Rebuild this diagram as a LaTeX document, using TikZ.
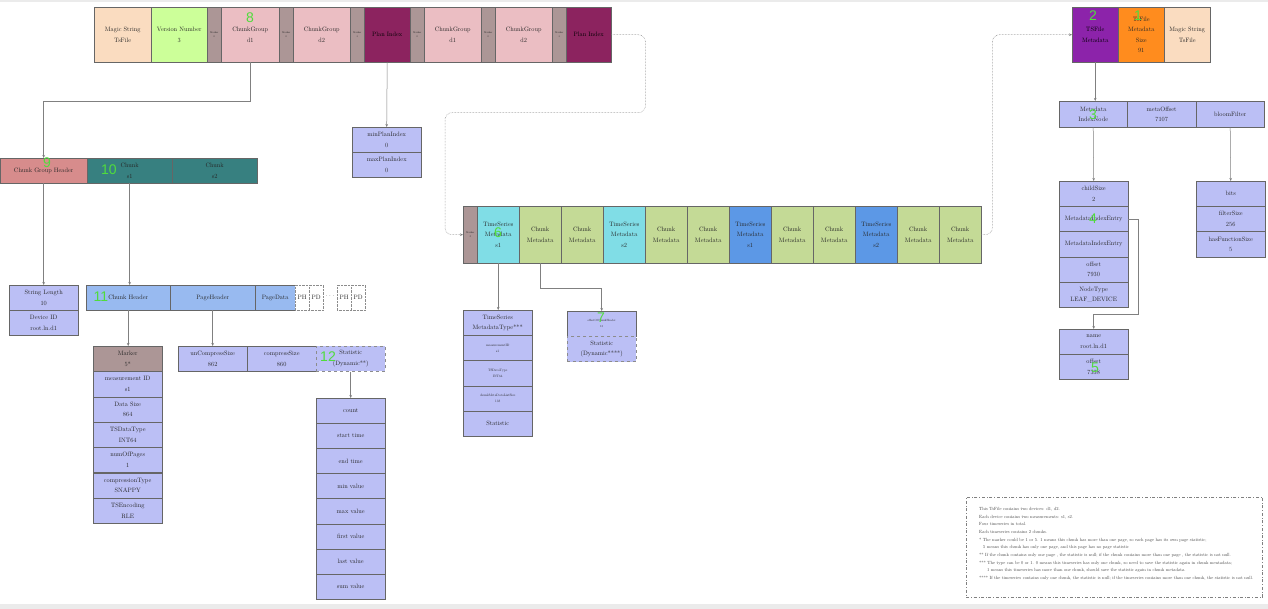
\documentclass[tikz,border=0pt]{standalone}
\usepackage{fontspec}
\setmainfont{lmroman10-regular.otf}
\newfontfamily\tagfont{Liberation Sans}
\usetikzlibrary{arrows.meta}
\definecolor{magiccol}{RGB}{250,220,192}
\definecolor{versioncol}{RGB}{204,255,153}
\definecolor{markcol}{RGB}{172,150,150}
\definecolor{groupcol}{RGB}{235,190,195}
\definecolor{plancol}{RGB}{140,35,95}
\definecolor{metacol}{RGB}{140,35,170}
\definecolor{sizecol}{RGB}{255,140,30}
\definecolor{cghcol}{RGB}{215,140,140}
\definecolor{chunkcol}{RGB}{55,128,128}
\definecolor{lavcol}{RGB}{187,191,245}
\definecolor{hdrcol}{RGB}{152,186,240}
\definecolor{cyancol}{RGB}{128,221,230}
\definecolor{cmcol}{RGB}{196,218,150}
\definecolor{bluecol}{RGB}{92,152,230}
\definecolor{tagcol}{RGB}{80,220,60}

\tikzset{
  cell/.style={draw=black!60, anchor=north west, align=center, inner sep=0pt, text=black!85, font=\fontsize{6.3}{10.5}\selectfont},
  toprow/.style={cell, minimum height=55pt},
  midrow/.style={cell, minimum width=42pt, minimum height=57pt},
  markerbox/.style={cell, fill=markcol, minimum width=14pt, minimum height=55pt, font=\fontsize{2.6}{3.4}\selectfont},
  stackcell/.style={cell, fill=lavcol, minimum width=69pt, minimum height=25.2pt},
  tinycell/.style={stackcell, font=\fontsize{3.4}{6}\selectfont},
  dynbox/.style={stackcell, dashed, draw=black!45},
  pagebox/.style={cell, fill=white, densely dotted, draw=black!45, minimum width=14pt, minimum height=25pt},
  link/.style={draw=black!50, line width=0.5pt, -{Stealth[length=3pt,width=2.6pt]}},
  dlink/.style={link, densely dotted, rounded corners=7pt},
  tag/.style={text=tagcol, inner sep=0pt, font=\tagfont\fontsize{14}{14}\selectfont},
}

\begin{document}
\begin{tikzpicture}[x=1pt,y=-1pt]
    \useasboundingbox (0,0) rectangle (1268,609);
    \fill[white] (0,0) rectangle (1268,609);
    \fill[black!8] (0,0) rectangle (1268,2.5);
    \fill[black!8] (0,604) rectangle (1268,609);

    \node[toprow, fill=magiccol, minimum width=57pt] (magicA) at (94,7) {Magic String\\TsFile};
    \node[toprow, fill=versioncol, minimum width=56pt] (version) at (151,7) {Version Number\\3};
    \node[markerbox] (mkA) at (207,7) {Marker\\0};
    \node[toprow, fill=groupcol, minimum width=58pt] (cgA) at (221,7) {ChunkGroup\\d1};
    \node[markerbox] (mkB) at (279,7) {Marker\\0};
    \node[toprow, fill=groupcol, minimum width=57pt] (cgB) at (293,7) {ChunkGroup\\d2};
    \node[markerbox] (mkC) at (350,7) {Marker\\3};
    \node[toprow, fill=plancol, minimum width=46pt, text=black] (planA) at (364,7) {Plan Index};
    \node[markerbox] (mkD) at (410,7) {Marker\\0};
    \node[toprow, fill=groupcol, minimum width=57pt] (cgC) at (424,7) {ChunkGroup\\d1};
    \node[markerbox] (mkE) at (481,7) {Marker\\0};
    \node[toprow, fill=groupcol, minimum width=57pt] (cgD) at (495,7) {ChunkGroup\\d2};
    \node[markerbox] (mkF) at (552,7) {Marker\\3};
    \node[toprow, fill=plancol, minimum width=45pt, text=black] (planB) at (566,7) {Plan Index};

    \node[toprow, fill=metacol, minimum width=46pt, text=black] (tsfmeta) at (1072,7) {TSFile\\Metadata};
    \node[toprow, fill=sizecol, minimum width=46pt] (tsfsize) at (1118,7) {TsFile\\Metadata\\Size\\91};
    \node[toprow, fill=magiccol, minimum width=46pt] (magicB) at (1164,7) {Magic String\\TsFile};

    \node[stackcell] (minplan) at (352,127) {minPlanIndex\\0};
    \node[stackcell] (maxplan) at (352,152.2) {maxPlanIndex\\0};

    \node[cell, fill=cghcol, minimum width=87pt, minimum height=25pt] (cgh) at (0,158) {Chunk Group Header};
    \node[cell, fill=chunkcol, minimum width=85pt, minimum height=25pt] (chunkA) at (87,158) {Chunk\\s1};
    \node[cell, fill=chunkcol, minimum width=85pt, minimum height=25pt] (chunkB) at (172,158) {Chunk\\s2};

    \node[stackcell] (strlen) at (9,285) {String Length\\10};
    \node[stackcell] (devid) at (9,310.2) {Device ID\\root.ln.d1};

    \node[cell, fill=hdrcol, minimum width=84pt, minimum height=25pt] (chdr) at (86,285) {Chunk Header};
    \node[cell, fill=hdrcol, minimum width=85pt, minimum height=25pt] (phdr) at (170,285) {PageHeader};
    \node[cell, fill=hdrcol, minimum width=40pt, minimum height=25pt] (pdata) at (255,285) {PageData};
    \node[pagebox] (phA) at (295,285) {PH};
    \node[pagebox] (pdA) at (309,285) {PD};
    \node[font=\fontsize{6.3}{8}\selectfont, text=black!70] (dots) at (330,296) {$\cdots$};
    \node[pagebox] (phB) at (337,285) {PH};
    \node[pagebox] (pdB) at (351,285) {PD};

    \node[stackcell, fill=markcol] (mkr) at (93,346) {Marker\\5*};
    \node[stackcell] (mid) at (93,371.3) {measurement ID\\s1};
    \node[stackcell] (dsize) at (93,396.6) {Data Size\\864};
    \node[stackcell] (dtype) at (93,421.9) {TSDataType\\INT64};
    \node[stackcell] (npages) at (93,447.2) {numOfPages\\1};
    \node[stackcell] (ctype) at (93,472.5) {compressionType\\SNAPPY};
    \node[stackcell] (enc) at (93,497.8) {TSEncoding\\RLE};

    \node[stackcell] (ucs) at (178,346) {unCompressSize\\862};
    \node[stackcell] (cs) at (247,346) {compressSize\\860};
    \node[dynbox] (pstat) at (316,346) {Statistic\\(Dynamic**)};

    \foreach \i/\t in {0/count,1/start time,2/end time,3/min value,4/max value,5/first value,6/last value,7/sum value}
        \node[stackcell] (st\i) at (316,{398+25.1*\i}) {\t};

    \node[markerbox, minimum height=57pt] (mkM) at (463,206) {Marker\\2};
    \node[midrow, fill=cyancol] (tsA) at (477,206) {TimeSeries\\Metadata\\s1};
    \node[midrow, fill=cmcol] (cmA1) at (519,206) {Chunk\\Metadata};
    \node[midrow, fill=cmcol] (cmA2) at (561,206) {Chunk\\Metadata};
    \node[midrow, fill=cyancol] (tsB) at (603,206) {TimeSeries\\Metadata\\s2};
    \node[midrow, fill=cmcol] (cmB1) at (645,206) {Chunk\\Metadata};
    \node[midrow, fill=cmcol] (cmB2) at (687,206) {Chunk\\Metadata};
    \node[midrow, fill=bluecol] (tsC) at (729,206) {TimeSeries\\Metadata\\s1};
    \node[midrow, fill=cmcol] (cmC1) at (771,206) {Chunk\\Metadata};
    \node[midrow, fill=cmcol] (cmC2) at (813,206) {Chunk\\Metadata};
    \node[midrow, fill=bluecol] (tsD) at (855,206) {TimeSeries\\Metadata\\s2};
    \node[midrow, fill=cmcol] (cmD1) at (897,206) {Chunk\\Metadata};
    \node[midrow, fill=cmcol] (cmD2) at (939,206) {Chunk\\Metadata};

    \node[stackcell] (tsmtype) at (463,310) {TimeSeries\\MetadataType***};
    \node[tinycell] (msid) at (463,335.2) {measurementID\\s1};
    \node[tinycell] (tdt) at (463,360.4) {TSDataType\\INT64};
    \node[tinycell] (cmls) at (463,385.6) {chunkMetaDataListSize\\138};
    \node[stackcell] (tstat) at (463,410.8) {Statistic};

    \node[tinycell, font=\fontsize{3}{6}\selectfont] (offh) at (567,311) {offsetOfChunkHeader\\13};
    \node[dynbox] (dstat) at (567,336.2) {Statistic\\(Dynamic****)};

    \node[stackcell, minimum width=68pt, minimum height=26pt] (idxnode) at (1059,101) {Metadata\\IndexNode};
    \node[stackcell, minimum height=26pt] (metaoff) at (1127,101) {metaOffset\\7107};
    \node[stackcell, minimum width=68pt, minimum height=26pt] (bloom) at (1196,101) {bloomFilter};

    \node[stackcell] (childsize) at (1059,181) {childSize\\2};
    \node[stackcell] (entryA) at (1059,206.2) {MetadataIndexEntry};
    \node[stackcell] (entryB) at (1059,231.4) {MetadataIndexEntry};
    \node[stackcell] (offA) at (1059,256.6) {offset\\7930};
    \node[stackcell] (ntype) at (1059,281.8) {NodeType\\LEAF\_DEVICE};

    \node[stackcell] (nameA) at (1059,329) {name\\root.ln.d1};
    \node[stackcell] (offB) at (1059,354.2) {offset\\7338};

    \node[stackcell] (bits) at (1196,181) {bits};
    \node[stackcell] (fsize) at (1196,206.2) {filterSize\\256};
    \node[stackcell] (hfsize) at (1196,231.4) {hasFunctionSize\\5};

    \node[draw=black!50, dash dot, anchor=north west, minimum width=296pt, minimum height=100pt] (notebox) at (966,497) {};
    \node[anchor=north west, align=left, inner sep=0pt, text=black!75, font=\fontsize{4.5}{7.7}\selectfont] (notetext) at (979,507) {%
        This TsFile contains two devices: d1, d2.\\
        Each device contains two measurements: s1, s2.\\
        Four timeseries in total.\\
        Each timeseries contains 2 chunks.\\
        * The marker could be 1 or 5. 1 means this chunk has more than one page, so each page has its own page statistic;\\
        \hspace*{4pt}5 means this chunk has only one page, and this page has no page statistic\\
        ** If the chunk contains only one page , the statistic is null; if the chunk contains more than one page , the statistic is not null.\\
        *** The type can be 0 or 1. 0 means this timeseries has only one chunk, so need to save the statistic again in chunk mentadata;\\
        \hspace*{8pt}1 means this timeseries has more than one chunk, should save the statistic again in chunk metadata.\\
        **** If the timeseries contains only one chunk, the statistic is null; if the timeseries contains more than one chunk, the statistic is not null.};

    \draw[link] (cgA.south) -- ++(0,39) -| (cgh.north);
    \draw[link] (planA.south) -- (minplan.north);
    \draw[dlink] (planB.east) -| ++(34,78) -| ([xshift=-18pt]mkM.west) -- (mkM.west);
    \draw[dlink] (cmD2.east) -- ++(11,0) |- (tsfmeta.west);
    \draw[link] (tsfmeta.south) -- (tsfmeta.south |- idxnode.north);
    \draw[link] (idxnode.south) -- (childsize.north);
    \draw[link] (bloom.south) -- (bits.north);
    \draw[link] (entryA.east) -| ++(10,95) -| (nameA.north);
    \draw[link] (cgh.south) -- (strlen.north);
    \draw[link] (chunkA.south) -- (chunkA.south |- chdr.north);
    \draw[link] (chdr.south) -- (chdr.south |- mkr.north);
    \draw[link] (phdr.south) -- (ucs.north);
    \draw[link] (pstat.south) -- (st0.north);
    \draw[link] (tsA.south) -- (tsA.south |- tsmtype.north);
    \draw[link] (cmA1.south) -- ++(0,25) -| (offh.north);

    \node[tag] (tag1) at (1138,16) {1};
    \node[tag] (tag2) at (1093,16) {2};
    \node[tag] (tag3) at (1093,115) {3};
    \node[tag] (tag4) at (1093,219) {4};
    \node[tag] (tag5) at (1095,368) {5};
    \node[tag] (tag6) at (498,233) {6};
    \node[tag] (tag7) at (601,318) {7};
    \node[tag] (tag8) at (250,18) {8};
    \node[tag] (tag9) at (47,163) {9};
    \node[tag] (tag10) at (109,170) {10};
    \node[tag] (tag11) at (101,297) {11};
    \node[tag] (tag12) at (328,357) {12};
\end{tikzpicture}
\end{document}
